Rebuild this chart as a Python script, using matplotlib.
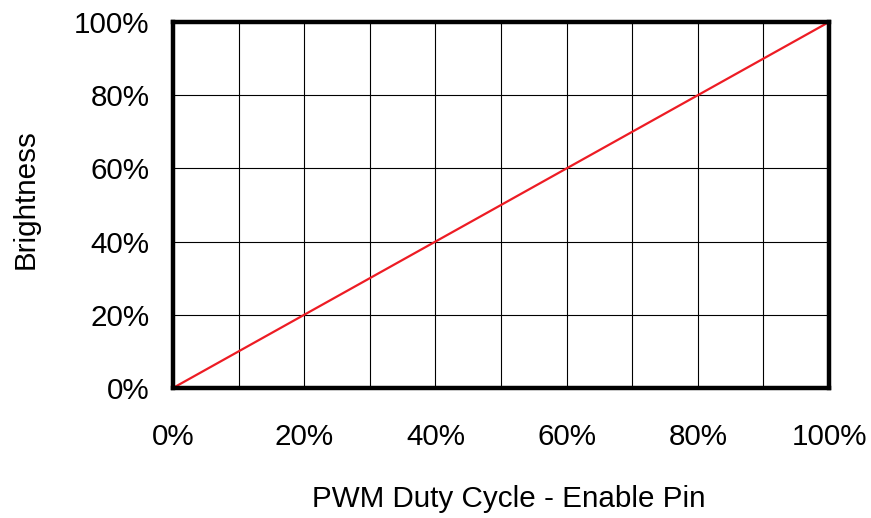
import matplotlib
matplotlib.use('Agg')
import matplotlib.pyplot as plt
from matplotlib.ticker import MultipleLocator, FuncFormatter

plt.rcParams['font.family'] = ['Liberation Sans', 'DejaVu Sans']

# PWM duty cycle vs brightness (percent)
duty = [0, 10, 20, 30, 40, 50, 60, 70, 80, 90, 100]
brightness = [0, 10, 20, 30, 40, 50, 60, 70, 80, 90, 100]

fig = plt.figure(figsize=(8.71, 5.18), dpi=100)
ax = fig.add_axes([0.1986, 0.251, 0.7532, 0.7065])

ax.plot(duty, brightness, color='#ED1C24', linewidth=1.6, zorder=3, clip_on=False)

ax.set_xlim(0, 100)
ax.set_ylim(0, 100)

ax.xaxis.set_major_locator(MultipleLocator(20))
ax.xaxis.set_minor_locator(MultipleLocator(10))
ax.yaxis.set_major_locator(MultipleLocator(20))
pct = FuncFormatter(lambda v, p: f'{v:.0f}%')
ax.xaxis.set_major_formatter(pct)
ax.yaxis.set_major_formatter(pct)

ax.grid(True, which='both', axis='x', color='black', linewidth=0.8)
ax.grid(True, which='major', axis='y', color='black', linewidth=0.8)

ax.tick_params(axis='both', which='both', length=0, labelsize=21.3)
ax.tick_params(axis='x', pad=25)
ax.tick_params(axis='y', pad=17)

for s in ax.spines.values():
    s.set_linewidth(3.2)
    s.set_zorder(4)

ax.set_xlabel('PWM Duty Cycle - Enable Pin', fontsize=21.3, labelpad=25)
ax.set_ylabel('Brightness', fontsize=21.3, labelpad=25)
ax.xaxis.label.set_x(0.512)
ax.yaxis.label.set_y(0.516)

fig.savefig('out.png', dpi=100)
